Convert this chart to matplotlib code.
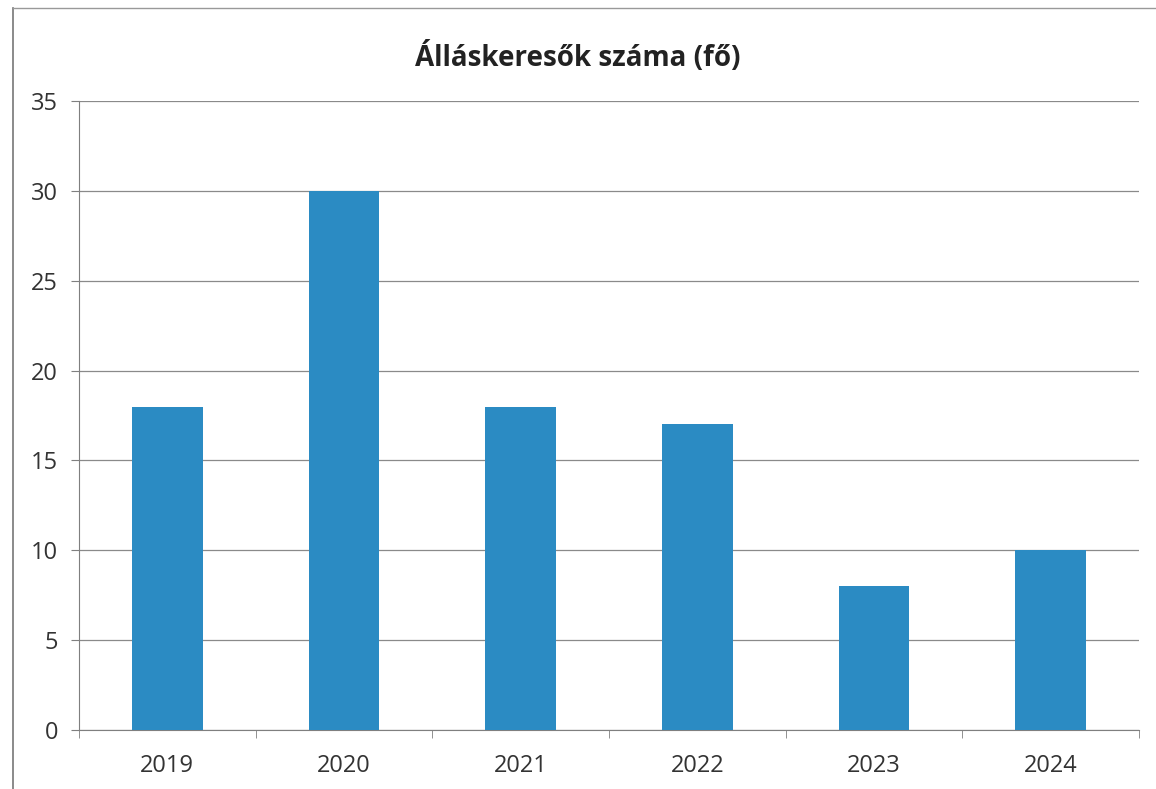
import matplotlib.pyplot as plt
import numpy as np
from matplotlib.lines import Line2D

years = ['2019', '2020', '2021', '2022', '2023', '2024']
jobseekers = [18, 30, 18, 17, 8, 10]
yticks = [0, 5, 10, 15, 20, 25, 30, 35]

plt.rcParams['font.family'] = ['Open Sans', 'DejaVu Sans']

fig = plt.figure(figsize=(11.56, 7.89), dpi=100)
ax = fig.add_axes([79 / 1156, 1 - 730 / 789, 1060 / 1156, 629 / 789])

x = np.arange(len(years))
ax.bar(x, jobseekers, width=0.4, color='#2b8bc3', zorder=3)

ax.set_xlim(-0.5, len(years) - 0.5)
ax.set_ylim(0, 35)
ax.set_yticks(yticks)
ax.set_xticks(x)
ax.set_xticklabels(years)
ax.set_xticks(np.arange(len(years) + 1) - 0.5, minor=True)

ax.grid(axis='y', color='#8a8a8a', linewidth=0.9, zorder=0)
for s in ['top', 'right']:
    ax.spines[s].set_visible(False)
for s in ['left', 'bottom']:
    ax.spines[s].set_color('#7f7f7f')
ax.tick_params(axis='y', length=6, color='#7f7f7f', labelsize=17, pad=9, labelcolor='#333333')
ax.tick_params(axis='x', which='major', length=0, labelsize=17, pad=17, labelcolor='#333333')
ax.tick_params(axis='x', which='minor', length=6, color='#7f7f7f')

fig.text(0.5, 1 - 58 / 789, 'Álláskeresők száma (fő)', ha='center', va='center',
         fontsize=20, fontweight='bold', color='#222222')

# chart frame from the scan
fig.add_artist(Line2D([13 / 1156, 13 / 1156], [0, 1 - 8 / 789], color='#777777', linewidth=1.2))
fig.add_artist(Line2D([13 / 1156, 1], [1 - 8 / 789, 1 - 8 / 789], color='#999999', linewidth=1.0))

fig.savefig('out.png', dpi=100)
